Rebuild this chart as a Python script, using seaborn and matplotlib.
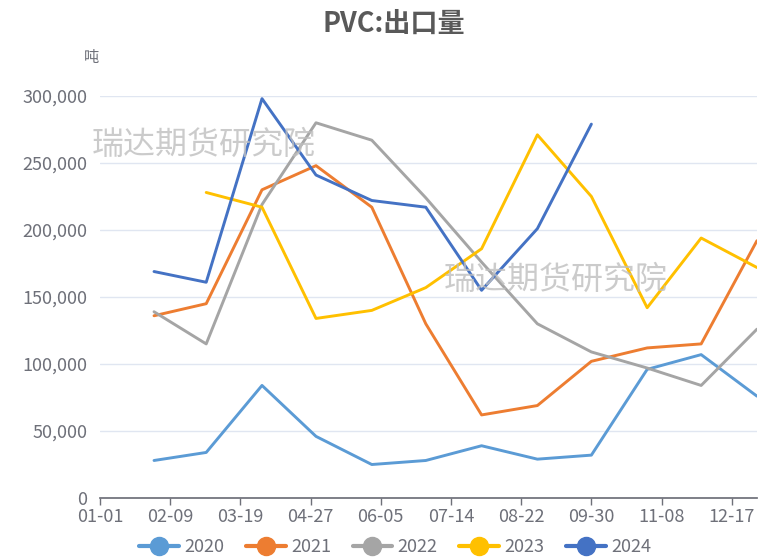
import pandas as pd
import numpy as np
import matplotlib
matplotlib.use("Agg")
import matplotlib.pyplot as plt
import matplotlib.dates as mdates
from matplotlib.lines import Line2D
import seaborn as sns

# monthly export volume (tonnes)
months = ["01-31", "02-29", "03-31", "04-30", "05-31", "06-30",
          "07-31", "08-31", "09-30", "10-31", "11-30", "12-31"]
y2020 = [28000, 34000, 84000, 46000, 25000, 28000, 39000, 29000, 32000, 96000, 107000, 76000]
y2021 = [136000, 145000, 230000, 248000, 217000, 130000, 62000, 69000, 102000, 112000, 115000, 192000]
y2022 = [139000, 115000, 219000, 280000, 267000, 224000, 176000, 130000, 109000, 97000, 84000, 126000]
y2023 = [np.nan, 228000, 217000, 134000, 140000, 157000, 186000, 271000, 225000, 142000, 194000, 172000]
y2024 = [169000, 161000, 298000, 241000, 222000, 217000, 155000, 201000, 279000, np.nan, np.nan, np.nan]

years = ["2020", "2021", "2022", "2023", "2024"]
colors = ["#5B9BD5", "#ED7D31", "#A5A5A5", "#FFC000", "#4472C4"]

dates = pd.to_datetime(["2024-" + m for m in months])
df = pd.DataFrame({"date": dates, "2020": y2020, "2021": y2021, "2022": y2022,
                   "2023": y2023, "2024": y2024})
long_df = df.melt(id_vars="date", var_name="year", value_name="value").dropna()

sns.set_theme(style="white")
plt.rcParams['font.family'] = ['Noto Sans CJK SC', 'DejaVu Sans']

fig = plt.figure(figsize=(7.6, 5.58), dpi=100)
ax = fig.add_axes([0.1316, 0.1075, 0.8644, 0.7205])

sns.lineplot(data=long_df, x="date", y="value", hue="year", hue_order=years,
             palette=colors, linewidth=2.1, ax=ax, legend=False)

ax.set_ylim(0, 300000)
ax.set_xlim(pd.Timestamp("2024-01-01"), pd.Timestamp("2024-12-31"))
ax.set_yticks(np.arange(0, 300001, 50000))
ax.yaxis.set_major_formatter(matplotlib.ticker.FuncFormatter(lambda v, p: f"{int(v):,}"))
ticks = pd.date_range("2024-01-01", periods=10, freq="39D")
ax.set_xticks(ticks)
ax.xaxis.set_major_formatter(mdates.DateFormatter("%m-%d"))
ax.set_xlabel("")
ax.set_ylabel("")

ax.grid(axis="y", color="#E0E6F1", linewidth=1)
ax.set_axisbelow(True)
for s in ["left", "right", "top"]:
    ax.spines[s].set_visible(False)
ax.spines["bottom"].set_color("#6E7079")
ax.tick_params(axis="x", colors="#6E7079", length=5, width=1, direction="out",
               bottom=True, labelsize=13, pad=2)
ax.tick_params(axis="y", colors="#6E7079", length=0, labelsize=13, pad=9)

fig.text(0.518, 0.958, "PVC:出口量", ha="center", va="center", fontsize=19.5,
         fontweight="bold", color="#595959")
fig.text(0.121, 0.897, "吨", ha="center", va="center", fontsize=11, color="#6E7079")

# watermarks
fig.text(0.268, 0.74, "瑞达期货研究院", ha="center", va="center", fontsize=23,
         color="#BFBFBF", alpha=0.8)
fig.text(0.731, 0.498, "瑞达期货研究院", ha="center", va="center", fontsize=23,
         color="#BFBFBF", alpha=0.8)

handles = [Line2D([0], [0], color=c, linewidth=3, marker="o", markersize=13,
                  markerfacecolor=c, markeredgecolor=c) for c in colors]
fig.legend(handles, years, loc="center", bbox_to_anchor=(0.52, 0.02), ncol=5,
           frameon=False, fontsize=13, handlelength=2.2, handletextpad=0.3,
           columnspacing=1.2, labelcolor="#6E7079")

fig.savefig("out.png", dpi=100)
